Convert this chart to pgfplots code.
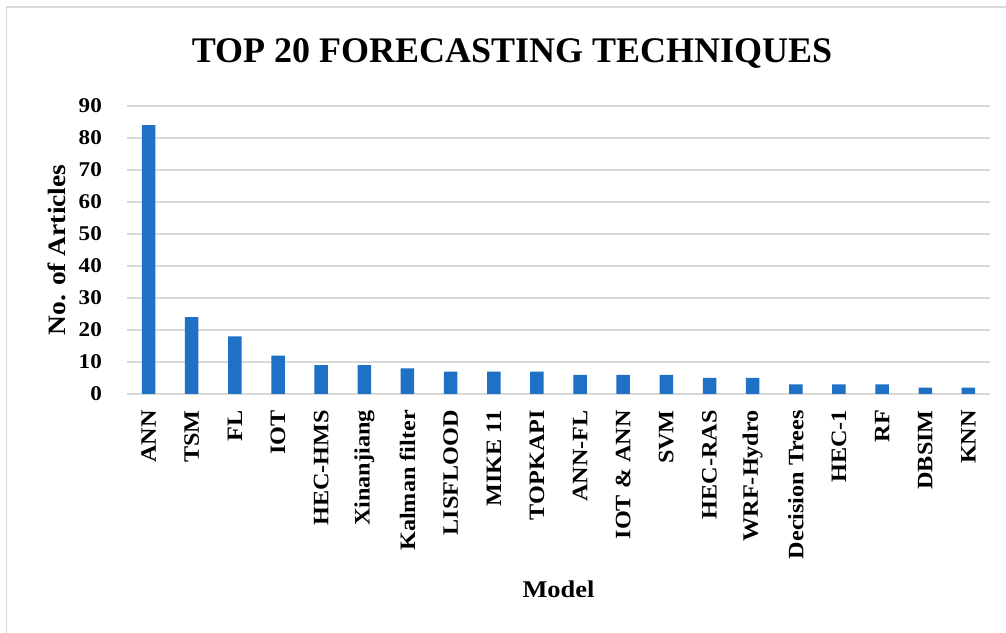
\documentclass[border=0pt]{standalone}
\usepackage{fontspec}
\setmainfont{Liberation Serif}
\newfontfamily\wide{Liberation Serif}[FakeStretch=1.1]
\usepackage{pgfplots}
\pgfplotsset{compat=1.18}
\definecolor{barblue}{RGB}{31,113,198}
\definecolor{gridgray}{RGB}{217,217,217}
\begin{document}
\begin{tikzpicture}
\useasboundingbox (0,0) rectangle (1006bp,633bp);
\fill[white] (0,0) rectangle (1006bp,633bp);
\draw[color=gridgray, line width=1.5bp] (6.5bp,0) -- (6.5bp,626bp) -- (1006bp,626bp);
\node[anchor=base, font=\bfseries\fontsize{36bp}{40bp}\selectfont] at (512bp,570bp) {TOP 20 FORECASTING TECHNIQUES};
\begin{axis}[
  at={(127bp,239bp)}, anchor=south west,
  width=863bp, height=288bp, scale only axis,
  xmin=-0.5, xmax=19.5, ymin=0, ymax=90,
  ytick={0,10,...,90},
  xtick=data,
  xticklabels={ANN,TSM,FL,IOT,HEC-HMS,Xinanjiang,Kalman filter,LISFLOOD,MIKE 11,TOPKAPI,ANN-FL,IOT \& ANN,SVM,HEC-RAS,WRF-Hydro,Decision Trees,HEC-1,RF,DBSIM,KNN},
  /pgf/number format/assume math mode=true,
  ymajorgrids,
  grid style={color=gridgray, line width=1.5bp},
  axis line style={draw=none},
  tick style={draw=none},
  major tick length=0pt,
  xticklabel style={rotate=90, anchor=east, inner sep=0pt, font=\wide\bfseries\fontsize{22bp}{26bp}\selectfont},
  xticklabel shift=16bp,
  yticklabel style={anchor=east, inner sep=0pt, font=\wide\bfseries\fontsize{21bp}{25bp}\selectfont},
  yticklabel shift=25bp,
  xlabel={Model},
  xlabel style={at={(axis description cs:0.5,-0.705)}, anchor=base, font=\wide\bfseries\fontsize{24bp}{28bp}\selectfont},
  ylabel={No. of Articles},
  ylabel style={at={(axis description cs:-0.081,0.5)}, anchor=center, font=\wide\bfseries\fontsize{25bp}{29bp}\selectfont},
  ybar, bar width=13.5bp,
]
\addplot[fill=barblue, draw=none] coordinates {
(0,84) (1,24) (2,18) (3,12) (4,9) (5,9) (6,8) (7,7) (8,7) (9,7)
(10,6) (11,6) (12,6) (13,5) (14,5) (15,3) (16,3) (17,3) (18,2) (19,2)
};
\end{axis}
\end{tikzpicture}
\end{document}
